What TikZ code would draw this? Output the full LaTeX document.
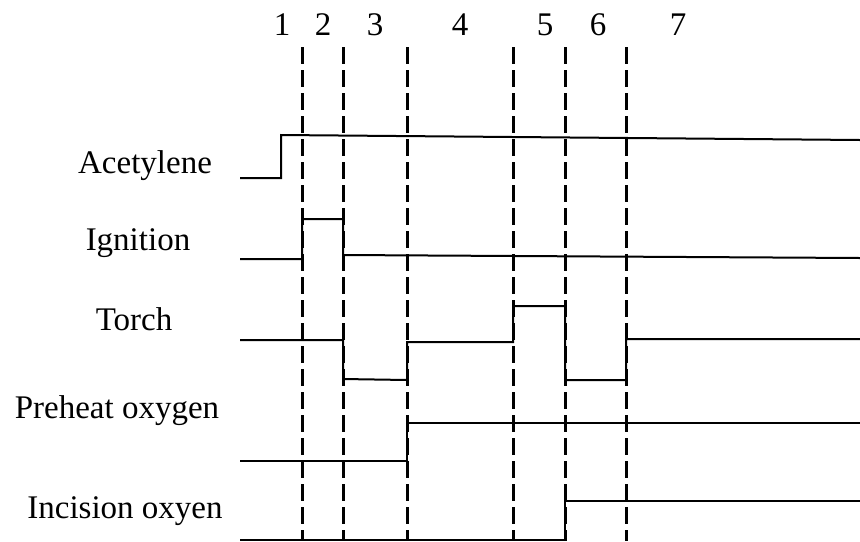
\documentclass[tikz,border=0pt]{standalone}
\usepackage{fontspec}
\setmainfont{Liberation Serif}
\usetikzlibrary{positioning}

\begin{document}
\begin{tikzpicture}[
    x=0.5pt, y=-0.5pt,
    lbl/.style={font=\fontsize{16.5}{20}\selectfont, inner sep=0pt, anchor=base},
    sig/.style={line width=1pt},
    tline/.style={line width=1.5pt, dash pattern=on 8.5pt off 3pt}
]
\useasboundingbox (0,0) rectangle (860,541);

% phase boundaries
\foreach \n/\x in {1/302, 2/343, 3/407, 4/513, 5/565, 6/626}
    \coordinate (t\n) at (\x,47);
\foreach \n in {1,...,6}
    \draw[tline] (t\n) -- (t\n |- 0,541);

% phase numbers
\foreach \n/\x in {1/282, 2/323, 3/375, 4/460, 5/545, 6/598, 7/678}
    \node[lbl] (p\n) at (\x,35) {\n};

% signal names
\node[lbl] (acet) at (145,173) {Acetylene};
\node[lbl] (ign) at (138,250) {Ignition};
\node[lbl] (torch) at (134,330) {Torch};
\node[lbl] (preox) at (117,418) {Preheat oxygen};
\node[lbl] (incox) at (125,518) {Incision oxyen};

% signals
\draw[sig] (240,178) -- (281,178) -- (281,135) -- (860,140);
\draw[sig] (240,259) -- (302,259) -- (302,219) -- (343,219) -- (343,255) -- (860,258);
\draw[sig] (240,340) -- (343,340) -- (343,379) -- (407,380) -- (407,342) -- (513,342)
    -- (513,306) -- (565,306) -- (565,380) -- (626,380) -- (626,339) -- (860,339);
\draw[sig] (240,461) -- (407,461) -- (407,423) -- (860,423);
\draw[sig] (240,540) -- (565,540) -- (565,501) -- (860,501);
\end{tikzpicture}
\end{document}
